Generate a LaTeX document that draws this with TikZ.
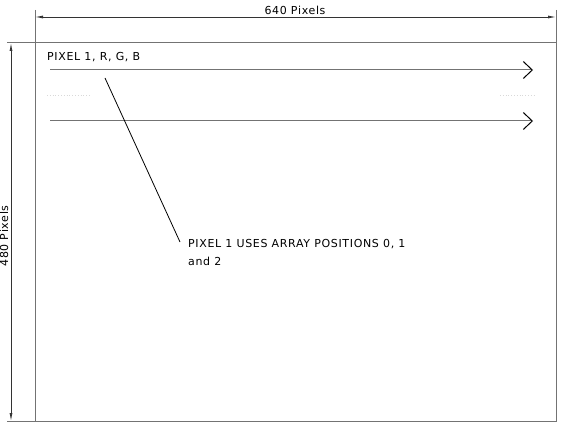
\documentclass[tikz,border=0pt]{standalone}
\usepackage{fontspec}
\setmainfont[LetterSpace=6]{DejaVu Sans}
\usetikzlibrary{arrows.meta}

\tikzset{
  frameline/.style={draw=black!55, line width=1pt},
  dimline/.style={draw=black!80, line width=0.8pt, {Latex[length=8pt,width=3pt]}-{Latex[length=8pt,width=3pt]}},
  rowarrow/.style={draw=black!55, line width=1pt, -{Straight Barb[length=9pt,width=17pt,line width=1pt,color=black]}},
  gap/.style={draw=black!15, line width=0.8pt, dotted},
  label/.style={font=\fontsize{11}{18}\selectfont, inner sep=0pt, anchor=west}
}

\begin{document}
\begin{tikzpicture}[x=1pt,y=-1pt]
      \def\left{35}
      \def\right{556}
      \def\top{43}
      \def\bottom{421}

      \useasboundingbox (0,0) rectangle (562,430);

      % screen frame
      \coordinate (tl) at (\left,\top);
      \coordinate (br) at (\right,\bottom);
      \draw[frameline] (tl) rectangle (br);

      % width dimension
      \coordinate (wa) at (\left,17);
      \coordinate (wb) at (\right,17);
      \draw[frameline] (\left,10) -- (tl);
      \draw[frameline] (\right,10) -- (\right,\top);
      \draw[dimline] (wa) -- (wb);
      \node (wlab) at (295,10) {\fontsize{11}{13}\selectfont 640 Pixels};

      % height dimension
      \coordinate (ha) at (11,\top);
      \coordinate (hb) at (11,\bottom);
      \draw[frameline] (7,\top) -- (tl);
      \draw[frameline] (7,\bottom) -- (\left,\bottom);
      \draw[dimline] (ha) -- (hb);
      \node[rotate=90] (hlab) at (4,236) {\fontsize{11}{13}\selectfont 480 Pixels};

      % pixel rows
      \node[label] (rgb) at (47,57) {PIXEL 1, R, G, B};
      \coordinate (r1a) at (50,70);
      \coordinate (r1b) at (533,70);
      \coordinate (r2a) at (50,121);
      \coordinate (r2b) at (533,121);
      \draw[rowarrow] (r1a) -- (r1b);
      \draw[rowarrow] (r2a) -- (r2b);
      \draw[gap] (47,95) -- (90,95);
      \draw[gap] (500,95) -- (535,95);

      % note and leader
      \node[label, align=left, anchor=north west] (note) at (188,239)
        {PIXEL 1 USES ARRAY POSITIONS 0, 1\\and 2};
      \coordinate (lead) at (105,78);
      \draw[black, line width=0.8pt] (lead) -- (180,242);
    \end{tikzpicture}
\end{document}
